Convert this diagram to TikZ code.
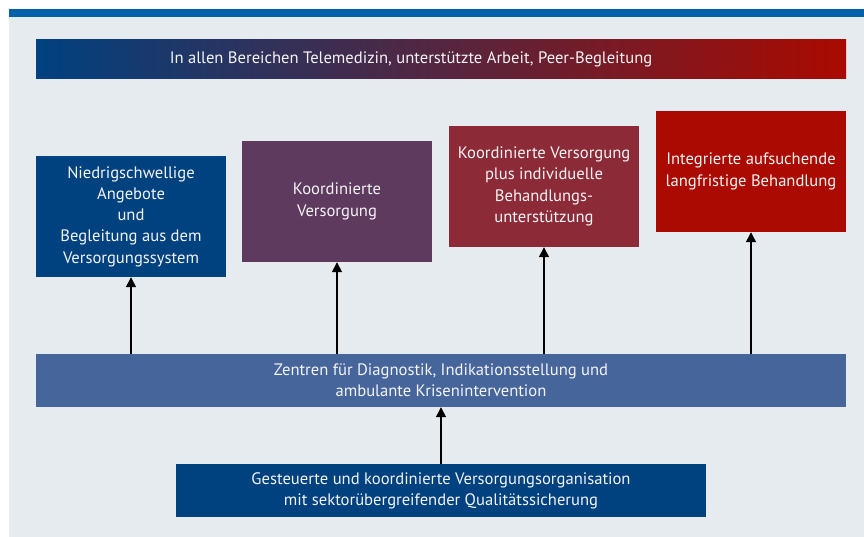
\documentclass[tikz,border=0pt]{standalone}
\usepackage{fontspec}
\setmainfont{PT Sans}
\usetikzlibrary{arrows.meta}
\definecolor{bgc}{HTML}{E6EBF0}
\definecolor{stripe}{HTML}{0060A8}
\definecolor{cblue}{HTML}{00417F}
\definecolor{cpurple}{HTML}{5E3A5E}
\definecolor{cwine}{HTML}{8C2A38}
\definecolor{cred}{HTML}{AA0A00}
\definecolor{cmid}{HTML}{46659B}
\definecolor{gmid}{HTML}{6A345E}
\definecolor{txt}{HTML}{F4F4F4}
\tikzset{
  boxbase/.style={inner sep=0pt, text=txt, align=center, font=\fontsize{16.6}{21.3}\selectfont},
  arr/.style={line width=1.4pt, -{Triangle[width=10pt,length=10pt]}},
}
\begin{document}
\begin{tikzpicture}[x=1pt,y=-1pt]
\useasboundingbox (0,0) rectangle (864,537);
\fill[white] (0,0) rectangle (864,537);
\fill[bgc] (9,17) rectangle (864,537);
\fill[stripe] (9,9) rectangle (864,17);
% top gradient bar
\shade[left color=cblue, middle color=gmid, right color=cred] (36,40) rectangle (846,79);
\node[boxbase] (top) at (411,59.5) {In allen Bereichen Telemedizin, unterstützte Arbeit, Peer-Begleitung};
% four boxes
\node[boxbase, fill=cblue, minimum width=190pt, minimum height=121pt] (b1) at (131,216.5)
  {Niedrigschwellige\\Angebote\\und\\Begleitung aus dem\\Versorgungssystem};
\node[boxbase, fill=cpurple, minimum width=190pt, minimum height=121pt] (b2) at (337,201.5)
  {Koordinierte\\Versorgung};
\node[boxbase, fill=cwine, minimum width=190pt, minimum height=121pt] (b3) at (544,186.5)
  {Koordinierte Versorgung\\plus individuelle\\Behandlungs-\\unterstützung};
\node[boxbase, fill=cred, minimum width=190pt, minimum height=121pt] (b4) at (751,171.5)
  {Integrierte aufsuchende\\langfristige Behandlung};
% middle bar
\node[boxbase, fill=cmid, minimum width=810pt, minimum height=53pt] (mid) at (441,380.5)
  {Zentren für Diagnostik, Indikationsstellung und\\ambulante Krisenintervention};
% bottom box
\node[boxbase, fill=cblue, minimum width=530pt, minimum height=53pt] (bot) at (441,490.5)
  {Gesteuerte und koordinierte Versorgungsorganisation\\mit sektorübergreifender Qualitätssicherung};
% arrows
\draw[arr] (b1.south |- mid.north) -- (b1.south);
\draw[arr] (b2.south |- mid.north) -- (b2.south);
\draw[arr] (b3.south |- mid.north) -- (b3.south);
\draw[arr] (b4.south |- mid.north) -- (b4.south);
\draw[arr] (bot.north) -- (mid.south);
\end{tikzpicture}
\end{document}
